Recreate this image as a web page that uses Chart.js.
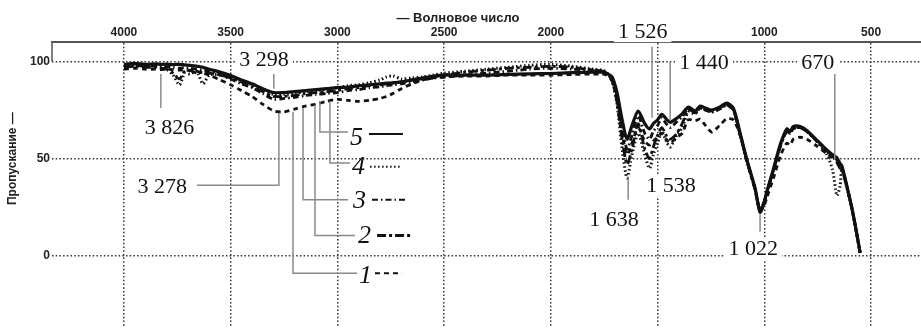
<!DOCTYPE html>
<html>
<head>
<meta charset="utf-8">
<script src="https://cdn.jsdelivr.net/npm/chart.js@4.4.1/dist/chart.umd.min.js"></script>
<style>
html, body { margin: 0; padding: 0; background: #fff; }
#wrap { width: 921px; height: 335px; position: relative; }
</style>
</head>
<body>
<div id="wrap"><canvas id="irChart"></canvas></div>
<script>
// Волновые числа (см-1), общие для всех спектров
const wavenumbers = [
    4000, 3950, 3900, 3850, 3826, 3800, 3770, 3740, 3715, 3690,
    3660, 3630, 3600, 3550, 3500, 3450, 3400, 3350, 3298, 3250,
    3200, 3150, 3100, 3050, 3000, 2950, 2900, 2850, 2800, 2770,
    2740, 2700, 2650, 2600, 2550, 2500, 2400, 2300, 2200, 2100,
    2000, 1900, 1800, 1760, 1740, 1713, 1690, 1666, 1643, 1620,
    1591, 1560, 1538, 1520, 1500, 1480, 1460, 1441, 1410, 1385,
    1356, 1324, 1301, 1275, 1246, 1210, 1176, 1145, 1113, 1082,
    1043, 1020, 1000, 988, 957, 926, 895, 879, 864, 832,
    801, 754, 707, 680, 660, 645, 637, 614, 590, 575, 551
];

// Пропускание, % — кривые 1..5
const series1 = [
    96, 96.5, 96, 96, 95.8, 96, 95.8, 95.5, 95.5, 95.3,
    95, 94, 93, 90.5, 88, 85, 82, 78, 74.5, 74,
    75.5, 77, 78, 79.5, 80.5, 80, 79.5, 80, 81, 82,
    83.5, 86, 88.5, 90.5, 91.5, 92, 92.5, 92.5, 93, 93,
    93, 93.3, 93.5, 93.5, 93, 90, 80, 63, 52, 58,
    66, 59, 57, 59, 61, 63, 60, 58, 61, 63,
    70, 69.5, 70.3, 67, 63.7, 67, 70.5, 70, 62, 49,
    34, 23, 26, 30, 40, 51, 58, 57, 60, 61,
    60, 56.5, 52.5, 50.5, 49, 46.5, 45.5, 36, 24.5, 16, 1.5
];
const series2 = [
    97, 97.5, 97, 97, 96.5, 96, 94, 91, 95, 95.5,
    94, 94.5, 94, 93, 91.5, 89.5, 87, 84.5, 82, 82,
    82.5, 83.5, 84, 84.5, 85, 86, 86.5, 87.5, 88, 88.5,
    89, 89.5, 90.5, 91, 92, 93, 94.5, 95.5, 96.5, 97,
    97.5, 97, 95.5, 95, 94, 90, 79, 60, 47, 55,
    68, 55, 50, 56, 62, 66, 62, 60, 63, 68,
    75, 74, 76, 75, 74.5, 76, 78, 75.5, 62.5, 49,
    34, 23.5, 28, 33, 44, 56, 64, 63, 65.5, 66,
    64, 59, 54, 51.5, 48, 45, 45, 36, 24.5, 16, 1.5
];
const series3 = [
    97.5, 98, 97.5, 97.8, 97.5, 97.3, 97, 96.5, 96.8, 96.5,
    96, 95.5, 95, 93, 91, 88.5, 86.5, 83.5, 80.5, 81,
    81.5, 82.5, 83, 83.5, 84, 85, 85.5, 86.5, 87, 87.5,
    88, 88.5, 89.5, 90.5, 91.5, 92, 93, 94, 95, 96,
    96.5, 96, 95.5, 95, 94, 91, 82, 66, 55, 62,
    72, 63, 60, 64, 67, 71, 68, 66, 69, 71.5,
    75.5, 73.5, 76, 75, 74, 75.5, 77.5, 75, 62, 49,
    34, 23, 28, 33, 44, 56, 64.5, 63.5, 65.5, 66,
    64, 59, 54, 51.5, 49.5, 46.5, 45.5, 36, 24.5, 16, 1.5
];
const series4 = [
    98, 98.2, 98, 97.5, 97, 96, 93, 88, 94, 93.5,
    95, 88.5, 93, 93, 92, 90, 88, 85.5, 83, 83,
    83.5, 84.5, 85, 85.8, 86.5, 87.5, 88, 89, 90.5, 92,
    92.5, 91, 91.5, 92, 93, 94, 95, 96, 97, 98,
    98.5, 97.5, 96, 95.5, 94.5, 90, 78, 55, 40, 52,
    63, 52, 45, 52, 58, 64, 59, 56, 62, 66,
    74, 73, 76, 75, 74, 75.5, 77.5, 75, 62, 49,
    34, 24, 28, 33, 44, 56.5, 64.5, 63.5, 65.5, 66,
    64, 59, 52, 44, 31, 36, 44, 35.5, 24.5, 16, 1.5
];
const series5 = [
    98.5, 99, 98.5, 98.8, 98.5, 98.6, 98.4, 98.5, 98.2, 98,
    97.6, 97, 96, 94.5, 92.7, 90.5, 88.5, 86, 84, 84,
    84.5, 85, 85.5, 86, 86.5, 86.8, 87.5, 88, 88.5, 88.8,
    89, 89.5, 90.5, 91.5, 92.5, 93, 93, 93, 93.3, 93.6,
    93.8, 94.2, 94.5, 94.5, 94, 92, 84, 70, 60, 67,
    74.5, 68, 65.3, 68, 70, 72.8, 70.5, 68.7, 70.8, 73,
    76.5, 74.5, 77, 76, 75, 76.5, 78.6, 76, 63, 49.6,
    34.7, 22.4, 28, 33, 44.8, 57, 65.3, 64, 66.5, 66.5,
    64.5, 59.5, 54.5, 52, 50.4, 47.5, 46.3, 36.3, 24.7, 16.4, 1.5
];

const seriesNames = ['1', '2', '3', '4', '5'];
const xTicks = [4000, 3500, 3000, 2500, 2000, 1500, 1000, 500];
const yTicks = [0, 50, 100];

// Стиль линий для кривых 1..5
const dashes = [[5, 4], [9, 3, 3, 3], [6, 3, 1.5, 3], [1.5, 2.5], []];
const widths = [2.8, 2.8, 2.8, 3, 3.2];

// Подписи полос (координаты в единицах осей)
const peakNotes = [
    { text: '3 826', at: [3787, 62.7], line: [[3827, 93.5], [3827, 76]] },
    { text: '3 298', at: [3344, 97.5], line: [[3298, 93.5], [3298, 86]], box: true },
    { text: '3 278', at: [3820, 32.3], line: [[3274, 73.6], [3274, 36.3], [3658, 36.3]] },
    { text: '1 526', at: [1570, 112], line: [[1526, 107.5], [1526, 71]], box: true },
    { text: '1 440', at: [1282, 96], line: [[1441, 100], [1441, 69.7]], box: true },
    { text: '670', at: [750, 96], line: [[670, 93.5], [670, 49.8]], box: true },
    { text: '1 638', at: [1704, 15.4], line: [[1638, 39.8], [1638, 28.9]] },
    { text: '1 538', at: [1437, 32.8], box: true },
    { text: '1 022', at: [1052, 0.5], line: [[1020, 21.4], [1020, 12.4]], box: true }
];

// Выноски с номерами кривых
const curveKeys = [
    { idx: 4, at: [2941, 57.2], sample: [2852, 2693, 62.7], line: [[3082, 79.6], [3082, 63.7], [2950, 63.7]] },
    { idx: 3, at: [2932, 42.3], sample: [2847, 2697, 45.8], line: [[3035, 79.6], [3035, 47.8], [2941, 47.8]] },
    { idx: 2, at: [2927, 24.4], sample: [2838, 2679, 28.9], line: [[3161, 76.1], [3161, 28.9], [2950, 28.9]] },
    { idx: 1, at: [2903, 6.5], sample: [2814, 2646, 10.4], line: [[3105, 77.6], [3105, 10.4], [2918, 10.4]] },
    { idx: 0, at: [2899, -13.9], sample: [2824, 2697, -9], line: [[3208, 74.1], [3208, -9], [2908, -9]] }
];

function makePoints(values) {
    return wavenumbers.map((w, i) => ({ x: w, y: values[i] }));
}

const decor = {
    id: 'decor',
    afterDatasetsDraw(chart) {
        const ctx = chart.ctx;
        const X = v => chart.scales.x.getPixelForValue(v);
        const Y = v => chart.scales.y.getPixelForValue(v);
        ctx.save();

        // уголок оси слева сверху
        ctx.strokeStyle = '#555';
        ctx.lineWidth = 1.5;
        ctx.beginPath();
        ctx.moveTo(chart.chartArea.left, chart.chartArea.top);
        ctx.lineTo(chart.chartArea.left, Y(100));
        ctx.stroke();

        // выноски
        ctx.strokeStyle = '#8a8a8a';
        ctx.lineWidth = 1.5;
        const polyline = pts => {
            ctx.beginPath();
            pts.forEach((p, i) => i ? ctx.lineTo(X(p[0]), Y(p[1])) : ctx.moveTo(X(p[0]), Y(p[1])));
            ctx.stroke();
        };
        peakNotes.forEach(n => { if (n.line) polyline(n.line); });
        curveKeys.forEach(k => polyline(k.line));

        // подписи полос
        ctx.font = '22px "Liberation Serif", "Times New Roman", serif';
        ctx.textAlign = 'center';
        ctx.textBaseline = 'alphabetic';
        peakNotes.forEach(n => {
            const x = X(n.at[0]), y = Y(n.at[1]);
            if (n.box) {
                const w = ctx.measureText(n.text).width;
                ctx.fillStyle = '#fff';
                ctx.fillRect(x - w / 2 - 4, y - 17, w + 8, 21);
            }
            ctx.fillStyle = '#111';
            ctx.fillText(n.text, x, y);
        });

        // номера кривых и образцы линий
        ctx.textAlign = 'left';
        curveKeys.forEach(k => {
            ctx.font = 'italic 26px "Liberation Serif", "Times New Roman", serif';
            ctx.fillStyle = '#111';
            ctx.fillText(seriesNames[k.idx], X(k.at[0]), Y(k.at[1]));
            ctx.strokeStyle = '#111';
            ctx.lineWidth = k.idx === 1 ? 3 : 2;
            ctx.setLineDash(dashes[k.idx]);
            ctx.beginPath();
            ctx.moveTo(X(k.sample[0]), Y(k.sample[2]));
            ctx.lineTo(X(k.sample[1]), Y(k.sample[2]));
            ctx.stroke();
            ctx.setLineDash([]);
        });

        // заголовки осей
        ctx.fillStyle = '#222';
        ctx.font = 'bold 13px "Liberation Sans", Arial, sans-serif';
        ctx.textAlign = 'center';
        ctx.textBaseline = 'middle';
        ctx.fillText('— Волновое число', X(2435), Y(122));
        ctx.font = 'bold 12px "Liberation Sans", Arial, sans-serif';
        ctx.translate(13, Y(50));
        ctx.rotate(-Math.PI / 2);
        ctx.fillText('Пропускание —', 0, 0);
        ctx.restore();
    }
};

const tickFont = { family: '"Liberation Sans", Arial, sans-serif', size: 12, weight: 'bold' };

new Chart(document.getElementById('irChart'), {
    type: 'line',
    data: {
        datasets: [series5, series4, series3, series2, series1].map((vals, j) => {
            const i = 4 - j;
            return {
                label: seriesNames[i],
                data: makePoints(vals),
                borderColor: '#111',
                borderWidth: widths[i],
                borderDash: dashes[i],
                pointRadius: 0,
                tension: 0.25,
                fill: false
            };
        })
    },
    options: {
        responsive: true,
        maintainAspectRatio: false,
        animation: false,
        devicePixelRatio: 1,
        layout: { padding: 0 },
        plugins: {
            legend: { display: false },
            tooltip: { enabled: false }
        },
        scales: {
            x: {
                type: 'linear',
                position: 'top',
                reverse: true,
                min: 266,
                max: 4337,
                afterBuildTicks: s => { s.ticks = xTicks.map(v => ({ value: v })); },
                afterFit: s => { s.height = 42; },
                grid: { color: '#333', lineWidth: 1.5, drawTicks: false },
                border: { display: true, color: '#555', width: 2, dash: [1.5, 2.2] },
                ticks: { padding: 2, color: '#222', font: tickFont, callback: v => String(v) }
            },
            y: {
                type: 'linear',
                min: -36,
                max: 110,
                afterBuildTicks: s => { s.ticks = yTicks.map(v => ({ value: v })); },
                afterFit: s => { s.width = 52; },
                grid: { color: '#333', lineWidth: 1.5, drawTicks: false },
                border: { display: false, dash: [1.5, 2.2] },
                ticks: { padding: 2, color: '#222', font: tickFont, callback: v => String(v) }
            }
        }
    },
    plugins: [decor]
});
</script>
</body>
</html>
